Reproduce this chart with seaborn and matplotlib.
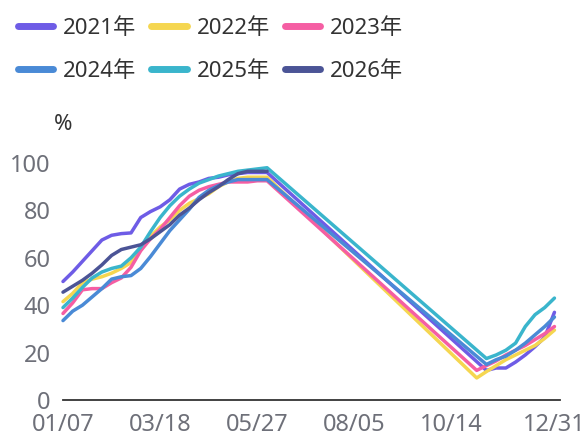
import numpy as np
import pandas as pd
import matplotlib
matplotlib.use("Agg")
import matplotlib.pyplot as plt
import matplotlib.transforms as mtransforms
from matplotlib.lines import Line2D
import seaborn as sns

# category axis: every day from 01/07 to 12/31
axis_days = pd.date_range("2021-01-07", "2021-12-31").strftime("%m/%d").tolist()

# weekly observation dates (spring part and late-year part)
dates_h1 = ["01/07", "01/14", "01/21", "01/28", "02/04", "02/11", "02/18", "02/25",
            "03/04", "03/11", "03/18", "03/25", "04/01", "04/08", "04/15", "04/22",
            "04/29", "05/06", "05/13", "05/20", "05/27", "06/03"]
dates_h2 = ["11/01", "11/08", "11/15", "11/22", "11/29", "12/06", "12/13", "12/20", "12/27"]

nan = np.nan
years = ["2021年", "2022年", "2023年", "2024年", "2025年", "2026年"]

y2021 = [50, 54, 58.5, 63, 67.5, 69.5, 70.2, 70.5, 77, 79.5, 81.5, 84.5, 89, 91, 92, 93.5,
         94, 95, 95.5, 96, 96, 96,
         nan, 12.5, 13.5, 13.5, 16, 19, 22.5, 26.5, 37]
y2022 = [41.5, 45, 49.5, 51, 52, 53.5, 55.5, 58, 63.5, 69, 73, 76, 80, 83, 85, 87,
         90, 92, 93.5, 94, 94, 94,
         9.3, 12, 14.5, 17, 19, 21, 23, 26, 29.5]
y2023 = [36.5, 41, 46.5, 47, 47, 49.5, 51.5, 56, 63, 68, 72, 77, 82, 86, 88.5, 90,
         91, 92, 92, 92, 92.5, 92.5,
         12.5, 14.5, 16.5, 19, 21, 23, 25.5, 28, 31]
y2024 = [33.5, 37.5, 40, 43.5, 47, 51, 52, 52.5, 55.5, 60.5, 66, 71.5, 76, 80.5, 85.5, 88.5,
         90.5, 92, 93, 93, 93, 93,
         nan, 15, 17, 18.5, 21, 24, 27.5, 31, 35]
y2025 = [39, 43, 47.5, 51.5, 54, 55.5, 56.5, 60, 64.5, 71, 77, 82, 86, 89, 91.5, 93,
         94.5, 95.5, 96.5, 97, 97.5, 98,
         nan, 17.5, 19, 21, 24, 31, 36, 39, 43]
y2026 = [45.5, 48, 50.5, 53.5, 57, 61, 63.5, 64.5, 65.5, 68, 71, 74, 78, 81, 84.5, 87.5,
         90, 93, 95.5, 96.5, 96.5, 96.5,
         nan, nan, nan, nan, nan, nan, nan, nan, nan]

colors = ["#6e5ce6", "#f5d650", "#f55ea3", "#4a8ad6", "#3ab5cc", "#4b5496"]

tick_idx = [0, 70, 140, 210, 280, 350, 358]
tick_labels = ["01/07", "03/18", "05/27", "08/05", "10/14", "", "12/31"]

rows = []
all_dates = dates_h1 + dates_h2
for name, vals in zip(years, [y2021, y2022, y2023, y2024, y2025, y2026]):
    for d, v in zip(all_dates, vals):
        if not np.isnan(v):
            rows.append({"year": name, "x": axis_days.index(d), "value": v})
df = pd.DataFrame(rows)

sns.set_theme(style="white")
plt.rcParams["font.family"] = ["Noto Sans", "Noto Sans CJK SC", "DejaVu Sans"]

fig = plt.figure(figsize=(5.88, 4.41), dpi=100)
ax = fig.add_axes([63 / 588, 41 / 441, 497 / 588, 237 / 441])

sns.lineplot(data=df, x="x", y="value", hue="year", palette=dict(zip(years, colors)),
             linewidth=2.5, estimator=None, legend=False, ax=ax)

ax.set_xlim(0, len(axis_days) - 1)
ax.set_ylim(0, 100)
ax.set_xticks(tick_idx)
ax.set_xticklabels(tick_labels)
ax.set_yticks(range(0, 101, 20))
ax.set_xlabel("")
ax.set_ylabel("")
for s in ["top", "right", "left"]:
    ax.spines[s].set_visible(False)
ax.spines["bottom"].set_color("#333333")
ax.spines["bottom"].set_linewidth(1.3)
ax.tick_params(axis="x", direction="out", length=6, width=1.3, color="#333333",
               labelsize=17, labelcolor="#6e7079", pad=3.5)
ax.tick_params(axis="y", length=0, labelsize=17, labelcolor="#6e7079", pad=9)
for ln in ax.lines:
    ln.set_clip_on(False)

# last label sits a bit left so it stays inside the picture
last = ax.get_xticklabels()[-1]
last.set_transform(last.get_transform() + mtransforms.ScaledTranslation(-6 / 100, 0, fig.dpi_scale_trans))

fig.text(63 / 588, 1 - 124 / 441, "%", fontsize=16, color="#333333", ha="center", va="center")

# legend filled row by row like the reference (matplotlib fills by column)
order = [0, 3, 1, 4, 2, 5]
handles = [Line2D([0], [0], color=colors[i], lw=5) for i in order]
labels = [years[i] for i in order]
fig.legend(handles, labels, ncol=3, loc="upper left", bbox_to_anchor=(-0.004, 1.005),
           frameon=False, fontsize=16, handlelength=1.6, handletextpad=0.45,
           columnspacing=0.66, labelspacing=1.0, labelcolor="#333333")

fig.savefig("out.png", dpi=100)
